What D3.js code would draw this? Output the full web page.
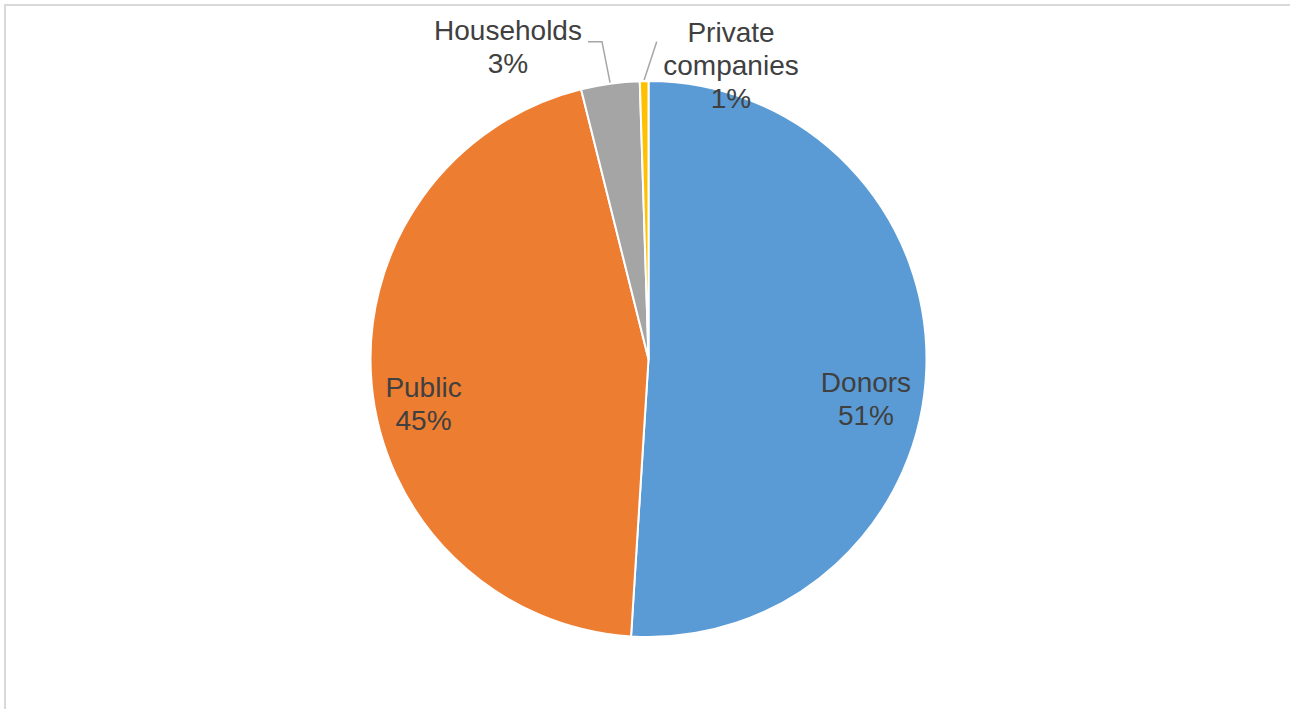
<!DOCTYPE html>
<html>
<head>
<meta charset="utf-8">
<script src="https://cdn.jsdelivr.net/npm/d3@7"></script>
<style>
  html, body { margin: 0; padding: 0; background: #fff; overflow: hidden; }
  svg { display: block; }
</style>
</head>
<body>
<svg id="chart" width="1290" height="709"></svg>
<script>
// Funding sources (share of total, %)
const categories = ["Donors", "Public", "Households", "Private companies"];
const shares = [51.0, 45.1, 3.4, 0.5];
const colors = ["#5b9bd5", "#ed7d31", "#a5a5a5", "#ffc000"];

// Label text lines per slice (the value line is appended from the data)
const labelLines = [["Donors"], ["Public"], ["Households"], ["Private", "companies"]];

const W = 1290, H = 709;
const cx = 648.5, cy = 359, R = 278;
const lineH = 33;

// Label anchors relative to the pie centre (first baseline), and leader elbows
const labelAnchor = [
  { dx: 217.5, dy: 33 },
  { dx: -225, dy: 37.7 },
  { dx: -140.5, dy: -319 },
  { dx: 82.5, dy: -317.3 }
];
const leaders = [
  null,
  null,
  [{ dx: -60.5, dy: -317.3 }, { dx: -46.5, dy: -317.3 }],
  [{ dx: 8.2, dy: -317.3 }]
];

const svg = d3.select("#chart");

// Chart frame
svg.append("rect")
  .attr("x", 5).attr("y", 5)
  .attr("width", W + 20).attr("height", H + 20)
  .attr("fill", "#fff")
  .attr("stroke", "#d9d9d9")
  .attr("stroke-width", 2);

const data = categories.map((c, i) => ({ name: c, value: shares[i], i }));

const pie = d3.pie().sort(null).value(d => d.value).startAngle(0).endAngle(2 * Math.PI);
const arcs = pie(data);
const arc = d3.arc().innerRadius(0).outerRadius(R);

const g = svg.append("g").attr("transform", `translate(${cx},${cy})`);

g.selectAll("path.slice")
  .data(arcs)
  .join("path")
  .attr("class", "slice")
  .attr("d", arc)
  .attr("fill", d => colors[d.data.i])
  .attr("stroke", "#fff")
  .attr("stroke-width", 2)
  .attr("stroke-linejoin", "round");

// Leader lines for the small outside slices
const leaderArc = d3.arc().innerRadius(R + 1).outerRadius(R + 1);
arcs.forEach(a => {
  const pts = leaders[a.data.i];
  if (!pts) return;
  const start = leaderArc.centroid(a);
  const path = d3.path();
  path.moveTo(start[0], start[1]);
  pts.slice().reverse().forEach(p => path.lineTo(p.dx, p.dy));
  g.append("path")
    .attr("d", path.toString())
    .attr("fill", "none")
    .attr("stroke", "#a6a6a6")
    .attr("stroke-width", 1.5);
});

// Data labels
const fmt = v => Math.round(v) + "%";
arcs.forEach(a => {
  const i = a.data.i;
  const lines = labelLines[i].concat([fmt(a.data.value)]);
  const t = g.append("text")
    .attr("x", labelAnchor[i].dx)
    .attr("y", labelAnchor[i].dy)
    .attr("text-anchor", "middle")
    .attr("font-family", "'Liberation Sans', Arial, sans-serif")
    .attr("font-size", 28)
    .attr("fill", "#404040");
  lines.forEach((ln, k) => {
    t.append("tspan")
      .attr("x", labelAnchor[i].dx)
      .attr("dy", k === 0 ? 0 : lineH)
      .text(ln);
  });
});
</script>
</body>
</html>
